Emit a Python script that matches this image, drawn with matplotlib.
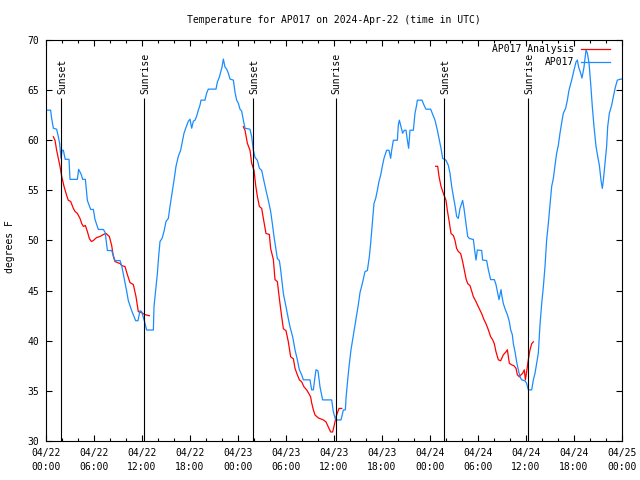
import matplotlib
matplotlib.use("Agg")
import matplotlib.pyplot as plt
from matplotlib.ticker import MultipleLocator

# hours since 04/22 00:00 UTC, temperature in F
obs_t = [0.0,0.58,0.7,0.92,1.33,1.54,1.7,1.875,2.0,2.17,2.4,2.875,3.0,3.92,4.08,4.4,4.58,4.92,5.17,5.58,5.92,6.125,6.54,7.17,7.4,7.67,8.21,8.625,9.25,9.46,10.08,10.29,10.71,11.21,11.5,11.75,11.96,12.29,
 12.58,13.42,13.5,13.75,13.92,14.08,14.25,14.5,14.75,15.0,15.29,15.5,15.75,16.0,16.25,16.54,16.83,17.08,17.25,17.42,17.79,18.0,18.21,18.42,18.625,18.83,19.04,19.25,19.375,19.875,20.08,20.29,21.25,21.42,21.67,21.83,22.0,22.17,22.375,22.58,22.79,23.0,23.42,23.625,23.83,24.04,24.25,24.46,24.67,
 24.875,25.5,25.71,25.92,26.125,26.42,26.67,26.96,27.17,27.5,27.79,28.08,28.29,28.5,28.75,28.92,29.17,29.33,29.67,30.0,30.29,30.5,30.83,31.125,31.42,31.67,31.96,32.17,33.0,33.21,33.42,33.625,33.75,34.0,34.25,34.58,35.71,35.92,36.21,36.875,37.17,37.42,
 37.5,37.67,37.875,38.125,38.33,38.54,38.75,39.04,39.25,39.54,39.875,40.17,40.42,40.58,40.79,41.0,41.21,41.42,41.625,41.83,42.04,42.25,42.58,42.875,43.08,43.21,43.42,43.92,44.04,44.17,44.375,44.58,44.79,45.0,45.17,45.33,45.5,45.92,46.125,46.33,46.42,47.0,47.25,47.5,48.08,48.33,48.625,48.92,49.17,49.375,49.58,50.0,50.29,50.5,50.71,50.92,51.125,51.33,51.54,51.75,52.08,52.25,52.5,52.71,52.92,
 53.42,53.58,53.75,53.92,54.46,54.58,55.08,55.29,55.58,56.04,56.25,56.42,56.625,56.75,56.875,57.0,57.17,57.42,57.67,57.92,58.08,58.29,58.42,58.625,58.83,59.04,59.25,59.46,59.875,60.08,60.29,60.71,60.92,61.125,61.33,61.54,61.75,61.96,62.17,62.375,62.58,62.79,63.0,63.21,63.42,63.625,63.83,64.04,64.25,64.46,64.67,64.96,65.17,65.375,65.71,66.0,66.25,66.42,66.58,66.83,67.0,67.25,67.5,67.67,67.875,68.08,68.29,68.5,68.75,68.96,69.17,69.375,69.54,69.67,69.875,70.08,70.21,70.42,70.71,70.92,71.17,71.42,71.83,72.0]
obs_T = [63,63,62.2,61.2,61.1,60.35,59.7,58.2,59.0,59.0,58.1,58.1,56.1,56.1,57.1,56.6,56.1,56.1,54.0,53.1,53.1,52.1,51.1,51.1,50.8,49.0,49.0,48.0,48.0,47.5,44.96,44.0,43.0,42.0,42.0,43.0,42.9,42.0,
 41.07,41.07,43.4,45.4,46.7,48.4,49.9,50.2,50.9,51.9,52.2,53.4,54.7,56.0,57.4,58.4,59.0,60.0,60.7,61.1,61.9,62.1,61.2,61.9,62.0,62.4,63.0,63.5,64.0,64.0,64.7,65.1,65.1,65.8,66.3,66.8,67.3,68.1,67.3,67.1,66.7,66.1,66.0,64.8,64.0,63.7,63.1,62.9,62.0,
 61.2,61.1,60.35,59.0,58.3,58.0,57.2,57.0,56.2,55.0,54.0,52.9,51.7,50.4,49.1,48.2,48.0,47.1,44.7,43.4,42.2,41.4,40.4,39.1,38.1,37.1,36.6,36.1,36.1,35.1,35.1,36.4,37.1,37.0,35.4,34.1,34.1,32.9,32.1,32.1,33.1,33.1,
 34.25,35.75,37.4,39.1,40.1,41.1,42.1,43.6,44.8,45.7,46.9,47.0,48.4,49.7,51.7,53.7,54.2,55.0,55.9,56.5,57.4,58.2,59.0,59.0,58.2,59.0,60.0,60.0,61.5,62.0,61.35,60.7,61.0,61.0,60.0,59.2,61.0,61.0,62.7,63.5,64.0,64.0,63.5,63.1,63.1,62.6,62.0,61.0,60.0,59.2,58.2,58.0,57.5,56.7,55.4,54.4,53.5,52.4,52.2,53.2,54.0,53.2,51.7,50.4,50.2,
 50.1,49.05,48.05,49.05,49.0,48.05,48.0,47.1,46.1,46.1,45.6,44.9,44.1,44.6,45.1,44.4,43.7,43.1,42.6,41.9,41.1,40.6,39.7,38.9,37.9,37.1,36.4,36.1,36.0,35.75,35.1,35.1,36.1,36.75,37.75,38.75,41.6,43.7,45.4,47.4,50.05,51.7,53.5,55.4,56.2,57.5,58.7,59.5,60.7,61.75,62.7,63.2,64.0,65.0,66.0,67.0,67.8,68.0,67.3,66.7,66.2,67.3,69.0,68.7,67.7,65.7,63.35,61.35,59.4,58.4,57.5,56.0,55.2,56.0,57.7,59.4,61.35,62.7,63.5,64.35,65.3,66.0,66.1,66.1]

# analysis, three night-time pieces
an1_t = [0.92,1.125,1.33,1.54,1.75,1.96,2.25,2.58,2.79,3.08,3.42,3.625,3.92,4.25,4.46,4.67,4.92,5.17,5.42,5.67,5.92,6.33,6.75,7.17,7.5,7.92,8.21,8.42,8.625,9.25,9.46,9.875,10.17,10.5,10.92,11.25,11.54,11.96,12.375,12.92]
an1_T = [60.35,60.0,59.0,58.2,57.4,56.4,55.4,54.5,54.0,53.9,53.2,52.9,52.7,52.2,51.7,51.4,51.5,50.9,50.2,49.9,50.0,50.3,50.4,50.6,50.7,50.4,49.5,48.4,47.9,47.7,47.5,47.4,46.6,45.8,45.6,44.4,42.9,42.8,42.6,42.5]
an2_t = [24.67,24.875,25.17,25.5,25.71,26.0,26.21,26.42,26.67,26.96,27.17,27.5,27.92,28.08,28.42,28.625,28.92,29.17,29.46,29.67,30.0,30.29,30.58,30.92,31.125,31.42,31.67,31.96,32.25,32.58,32.875,33.08,33.21,33.42,33.625,34.04,34.67,35.0,35.29,35.58,35.83,36.04,36.25,36.42,36.625,36.96]
an2_T = [61.35,61.0,59.7,59.0,57.7,57.0,55.5,54.4,53.4,53.2,52.2,50.7,50.6,49.2,48.1,46.1,45.9,44.2,42.4,41.2,41.0,39.9,38.4,38.2,37.25,36.6,36.1,35.9,35.4,35.1,34.7,34.4,33.8,33.1,32.6,32.3,32.1,31.9,31.4,30.9,30.9,31.6,32.4,32.8,33.25,33.25]
an3_t = [48.7,48.96,49.125,49.375,49.67,50.0,50.17,50.375,50.625,50.92,51.125,51.33,51.54,51.83,52.08,52.29,52.5,52.71,53.0,53.42,53.75,54.04,54.46,54.75,55.0,55.29,55.58,55.83,56.04,56.25,56.54,56.83,57.17,57.5,57.67,57.92,58.2,58.5,58.75,58.92,59.17,59.375,59.58,59.79,59.92,60.08,60.29,60.5,60.71,60.92]
an3_T = [57.4,57.4,56.4,55.4,54.7,54.0,53.0,52.0,50.7,50.5,50.0,49.2,48.9,48.7,47.9,47.05,46.2,45.7,45.5,44.4,43.9,43.4,42.7,42.1,41.7,41.1,40.4,40.1,39.7,38.9,38.1,38.0,38.6,38.9,39.1,37.75,37.6,37.5,37.25,36.6,36.4,36.6,36.75,37.1,36.1,36.9,38.1,39.1,39.7,39.9]

sun_t = [1.9, 12.3, 25.9, 36.25, 49.8, 60.3]
sun_lab = ['Sunset', 'Sunrise', 'Sunset', 'Sunrise', 'Sunset', 'Sunrise']

xtick_lab = ['04/22\n00:00','04/22\n06:00','04/22\n12:00','04/22\n18:00',
             '04/23\n00:00','04/23\n06:00','04/23\n12:00','04/23\n18:00',
             '04/24\n00:00','04/24\n06:00','04/24\n12:00','04/24\n18:00','04/25\n00:00']

plt.rcParams['font.family'] = 'DejaVu Sans Mono'
plt.rcParams['font.size'] = 7

fig = plt.figure(figsize=(6.4, 4.8), dpi=100)
ax = fig.add_axes([46/640, 39/480, 576/640, 401/480])

red = '#ff0000'
blue = '#1a8cff'
ax.plot(an1_t, an1_T, color=red, lw=0.9, label='AP017 Analysis')
ax.plot(an2_t, an2_T, color=red, lw=0.9)
ax.plot(an3_t, an3_T, color=red, lw=0.9)
ax.plot(obs_t, obs_T, color=blue, lw=0.9, label='AP017')

for t, lab in zip(sun_t, sun_lab):
    ax.vlines(t, 30, 64.2, color='black', lw=0.8, zorder=3)
    ax.text(t + 0.1, 64.6, lab, rotation=90, ha='center', va='bottom')

ax.set_xlim(0, 72)
ax.set_ylim(30, 70)
ax.set_xticks(range(0, 73, 6))
ax.set_xticklabels(xtick_lab, linespacing=1.55)
ax.xaxis.set_minor_locator(MultipleLocator(2))
ax.set_yticks(range(30, 71, 5))
ax.tick_params(which='both', direction='in', top=True, right=True, width=0.8)
ax.tick_params(which='major', length=4.5)
ax.tick_params(which='minor', length=2.5)
ax.tick_params(axis='x', pad=5)
ax.tick_params(axis='y', pad=5)
for s in ax.spines.values():
    s.set_linewidth(0.8)

fig.text(10/640, 1 - 247/480, 'degrees F', rotation=90, ha='center', va='center')
fig.text(334/640, 1 - 20/480, 'Temperature for AP017 on 2024-Apr-22 (time in UTC)',
         ha='center', va='center')

ax.legend(loc='upper right', frameon=False, markerfirst=False, handlelength=3.0,
          handletextpad=0.7, labelspacing=0.35, borderpad=0, borderaxespad=0,
          bbox_to_anchor=(1 - 12/576, 1 - 4/401))

fig.savefig('out.png', dpi=100)
